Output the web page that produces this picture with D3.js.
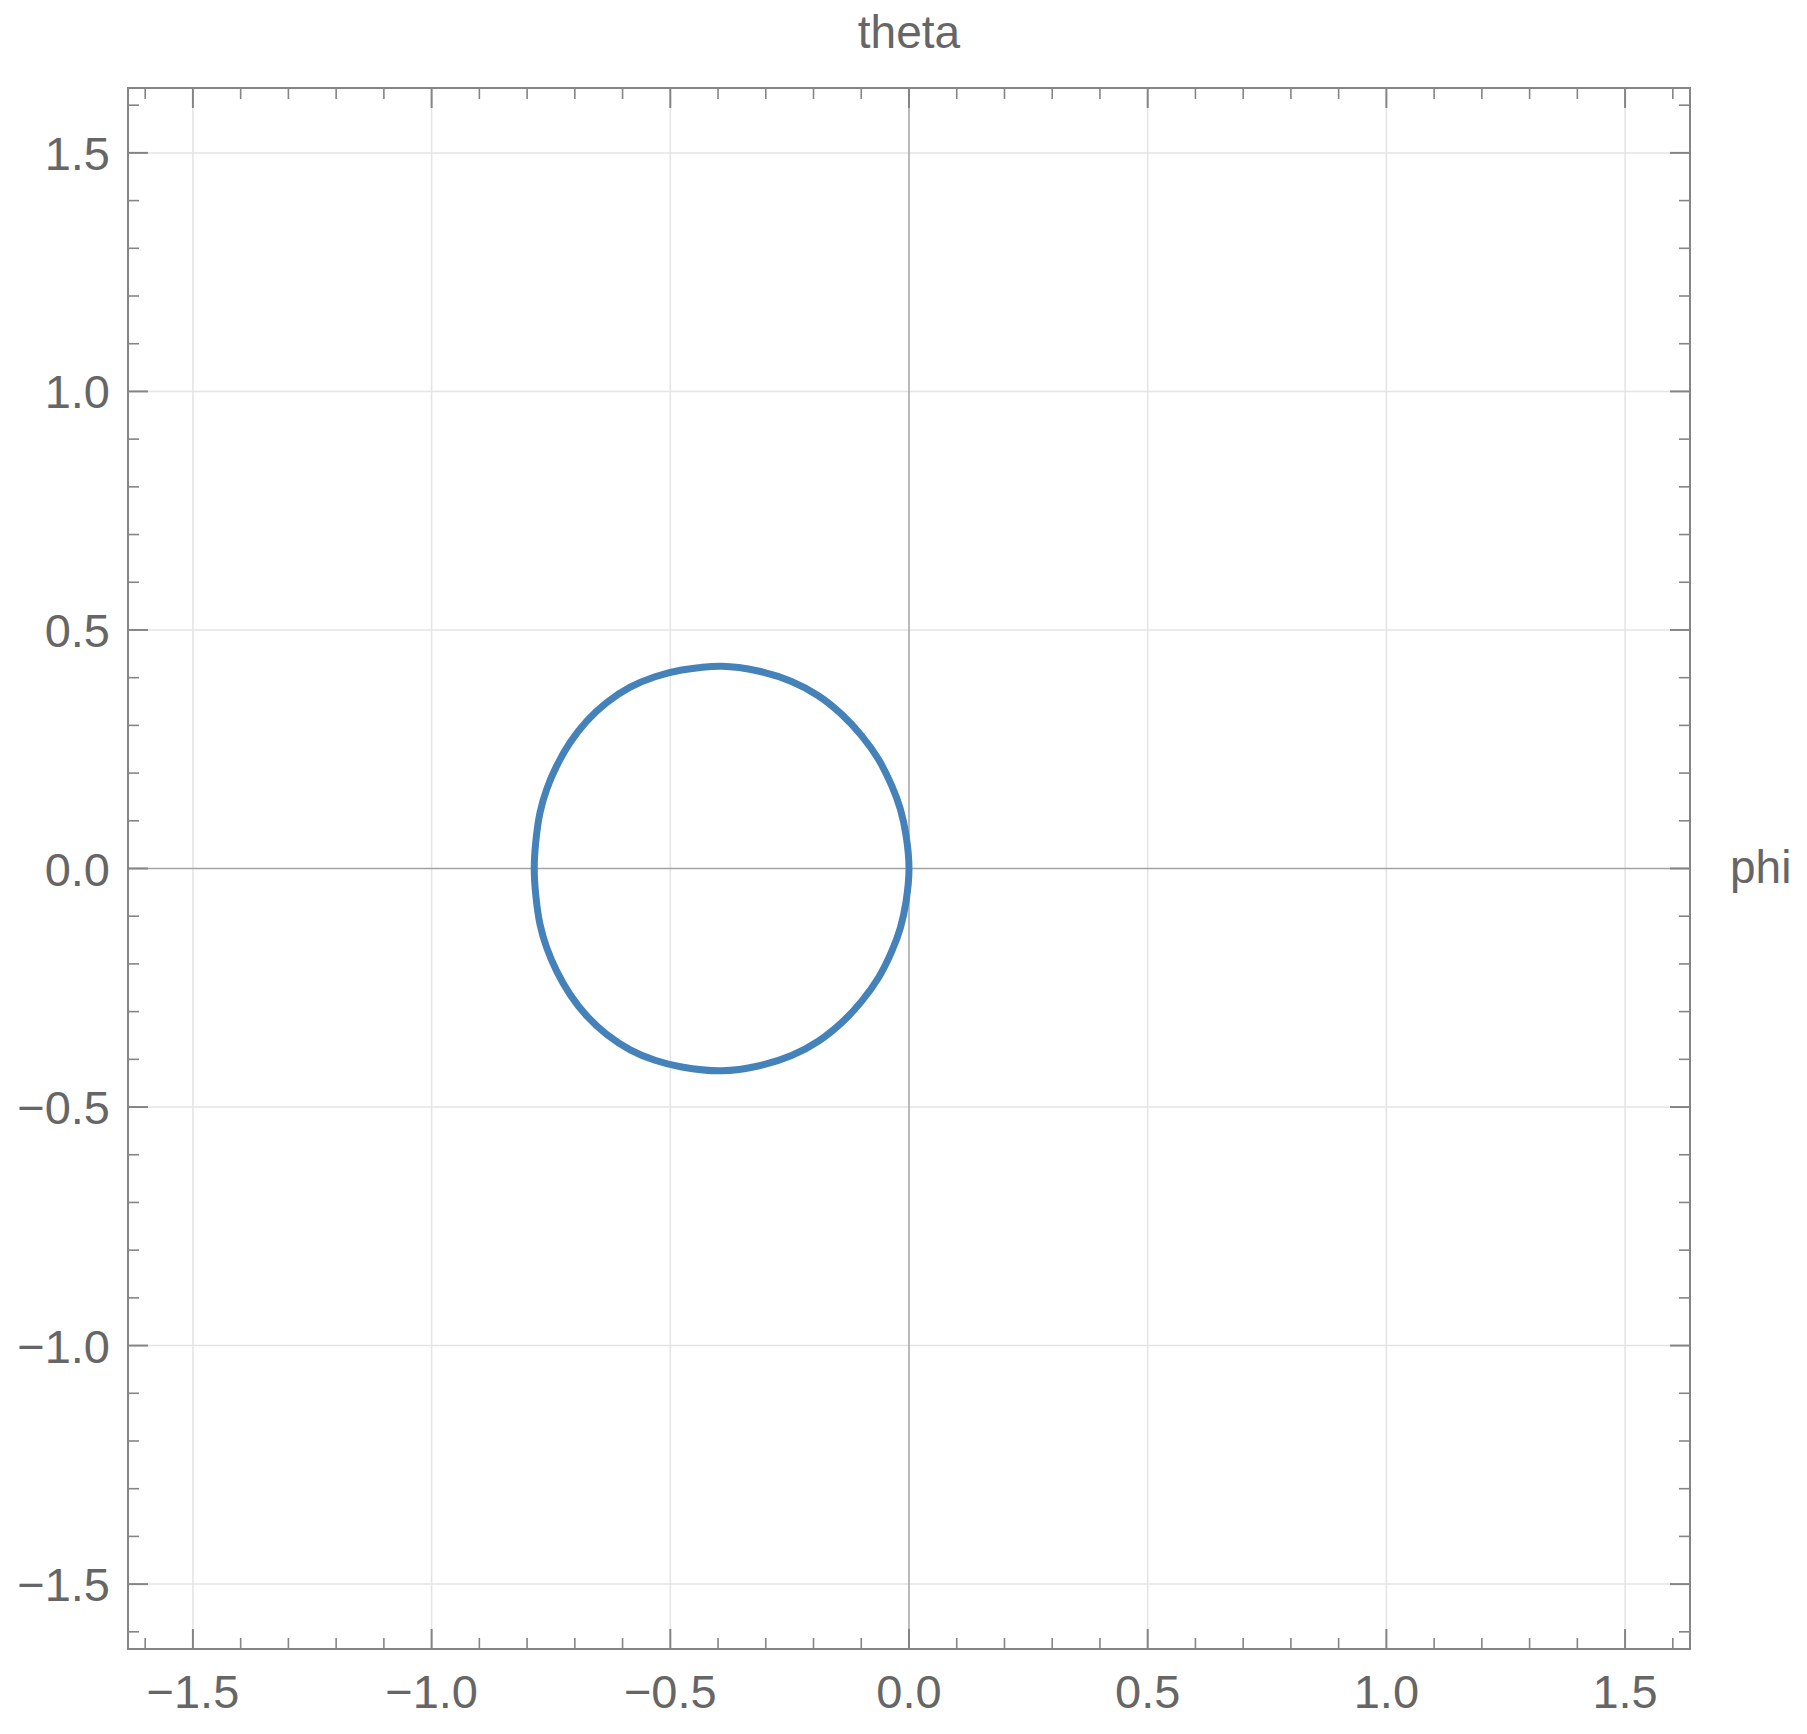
<!DOCTYPE html>
<html>
<head>
<meta charset="utf-8">
<script src="https://cdn.jsdelivr.net/npm/d3@7"></script>
<style>
  body { margin: 0; background: #fff; }
  text { font-family: "Liberation Sans", Arial, sans-serif; fill: #666; }
</style>
</head>
<body>
<svg id="chart" width="1807" height="1734"></svg>
<script>
// curve points (phi, theta): upper arc left to right, then lower arc right to left
const phi = [-0.785, -0.782, -0.773, -0.759, -0.738, -0.710, -0.675, -0.633, -0.584, -0.532, -0.476, -0.392, -0.316, -0.246, -0.190, -0.141, -0.099, -0.064, -0.036, -0.018, -0.006, 0.000,
    -0.006, -0.018, -0.036, -0.064, -0.099, -0.141, -0.190, -0.246, -0.316, -0.392, -0.476, -0.532, -0.584, -0.633, -0.675, -0.710, -0.738, -0.759, -0.773, -0.782];
const theta = [0.000, 0.054, 0.117, 0.166, 0.215, 0.264, 0.309, 0.348, 0.380, 0.402, 0.416, 0.424, 0.414, 0.392, 0.362, 0.323, 0.278, 0.229, 0.173, 0.124, 0.068, 0.000,
    -0.068, -0.124, -0.173, -0.229, -0.278, -0.323, -0.362, -0.392, -0.414, -0.424, -0.416, -0.402, -0.380, -0.348, -0.309, -0.264, -0.215, -0.166, -0.117, -0.054];
const majorTicks = [-1.5, -1.0, -0.5, 0.0, 0.5, 1.0, 1.5];
const minorTicks = d3.range(-16, 17).filter(i => i % 5 !== 0).map(i => i / 10);
const domain = [-1.636, 1.636];

const svg = d3.select('#chart');
const m = { left: 128, right: 1690, top: 88, bottom: 1649 };
const x = d3.scaleLinear().domain(domain).range([m.left, m.right]);
const y = d3.scaleLinear().domain(domain).range([m.bottom, m.top]);
const fmt = d3.format('.1f');
const frameColor = '#858585';

// grid
const grid = majorTicks.filter(v => v !== 0);
svg.append('g').selectAll('line').data(grid).enter().append('line')
    .attr('x1', d => x(d)).attr('x2', d => x(d)).attr('y1', m.top).attr('y2', m.bottom)
    .attr('stroke', '#e4e4e4').attr('stroke-width', 1.5);
svg.append('g').selectAll('line').data(grid).enter().append('line')
    .attr('y1', d => y(d)).attr('y2', d => y(d)).attr('x1', m.left).attr('x2', m.right)
    .attr('stroke', '#e4e4e4').attr('stroke-width', 1.5);

// zero axes
svg.append('line').attr('x1', x(0)).attr('x2', x(0)).attr('y1', m.top).attr('y2', m.bottom)
    .attr('stroke', '#a3a3a3').attr('stroke-width', 1.5);
svg.append('line').attr('y1', y(0)).attr('y2', y(0)).attr('x1', m.left).attr('x2', m.right)
    .attr('stroke', '#a3a3a3').attr('stroke-width', 1.5);

// curve
const line = d3.line().x(d => x(d[0])).y(d => y(d[1])).curve(d3.curveCatmullRomClosed);
svg.append('path').datum(d3.zip(phi, theta)).attr('d', line)
    .attr('fill', 'none').attr('stroke', '#4682ba').attr('stroke-width', 7);

// frame ticks on all four sides, pointing inward
const ticks = majorTicks.map(v => ({ v, len: 20, w: 2 })).concat(minorTicks.map(v => ({ v, len: 11, w: 1.6 })));
const tg = svg.append('g').attr('stroke', frameColor);
tg.selectAll('.tb').data(ticks).enter().append('line').attr('class', 'tb')
    .attr('x1', d => x(d.v)).attr('x2', d => x(d.v)).attr('y1', m.bottom).attr('y2', d => m.bottom - d.len).attr('stroke-width', d => d.w);
tg.selectAll('.tt').data(ticks).enter().append('line').attr('class', 'tt')
    .attr('x1', d => x(d.v)).attr('x2', d => x(d.v)).attr('y1', m.top).attr('y2', d => m.top + d.len).attr('stroke-width', d => d.w);
tg.selectAll('.tl').data(ticks).enter().append('line').attr('class', 'tl')
    .attr('y1', d => y(d.v)).attr('y2', d => y(d.v)).attr('x1', m.left).attr('x2', d => m.left + d.len).attr('stroke-width', d => d.w);
tg.selectAll('.tr').data(ticks).enter().append('line').attr('class', 'tr')
    .attr('y1', d => y(d.v)).attr('y2', d => y(d.v)).attr('x1', m.right).attr('x2', d => m.right - d.len).attr('stroke-width', d => d.w);

svg.append('rect').attr('x', m.left).attr('y', m.top).attr('width', m.right - m.left).attr('height', m.bottom - m.top)
    .attr('fill', 'none').attr('stroke', frameColor).attr('stroke-width', 2);

// tick labels
svg.append('g').selectAll('text').data(majorTicks).enter().append('text')
    .text(d => fmt(d)).attr('x', d => x(d)).attr('y', 1708)
    .attr('text-anchor', 'middle').attr('font-size', '47px');
svg.append('g').selectAll('text').data(majorTicks).enter().append('text')
    .text(d => fmt(d)).attr('x', 110).attr('y', d => y(d) + 17)
    .attr('text-anchor', 'end').attr('font-size', '47px');

// axis labels
svg.append('text').text('theta').attr('x', x(0)).attr('y', 48).attr('text-anchor', 'middle').attr('font-size', '46px');
svg.append('text').text('phi').attr('x', 1730).attr('y', 883).attr('font-size', '46px');
</script>
</body>
</html>
